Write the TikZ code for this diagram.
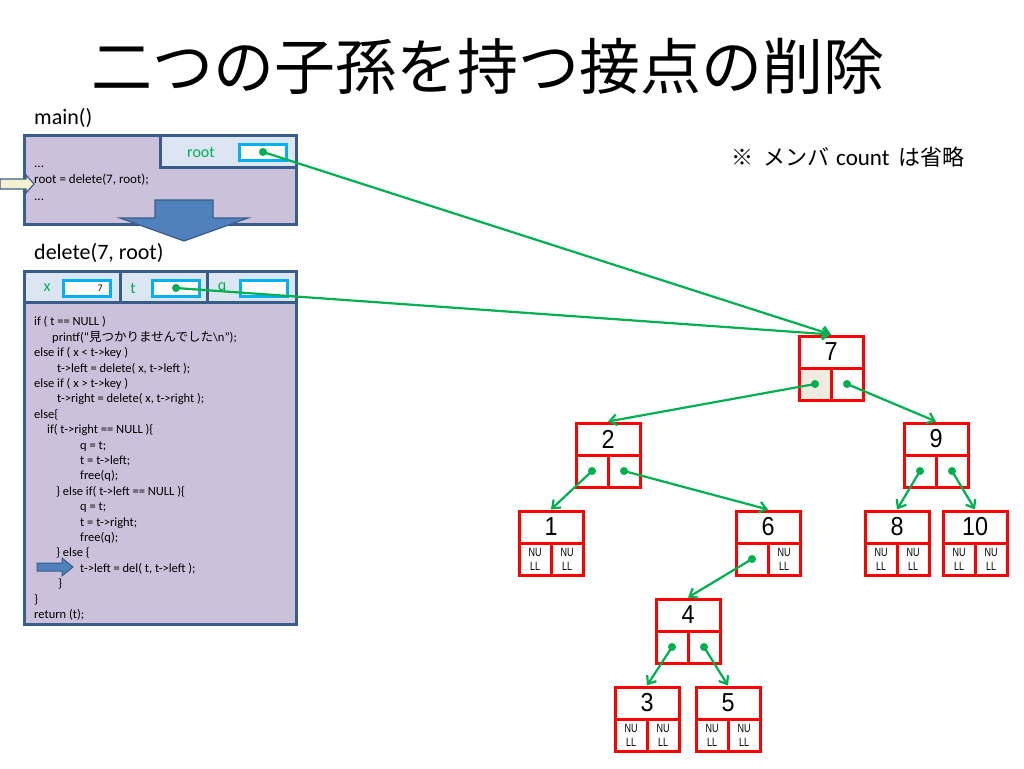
\documentclass[tikz,border=0pt]{standalone}
\usepackage{fontspec}
\setmainfont{Carlito}
\newfontfamily\jpfont{Noto Sans CJK JP}
\newfontfamily\keyfont[FakeStretch=0.9]{Liberation Sans}
\newfontfamily\nilfont[FakeStretch=0.75]{Liberation Sans}
\usetikzlibrary{arrows.meta}
\definecolor{framecol}{HTML}{385D8A}
\definecolor{boxfill}{HTML}{CCC1DA}
\definecolor{headfill}{HTML}{DCE6F2}
\definecolor{ptrcol}{HTML}{00B0F0}
\definecolor{linkcol}{HTML}{00B050}
\definecolor{arrowfill}{HTML}{4F81BD}
\definecolor{hintfill}{HTML}{F5F0D0}
\definecolor{usedcell}{HTML}{EEECE1}
\tikzset{
  frame/.style={draw=framecol,line width=3pt,fill=boxfill},
  head/.style={draw=framecol,line width=3pt,fill=headfill},
  ptr/.style={draw=ptrcol,line width=3pt,fill=white,minimum width=47pt,minimum height=16pt,inner sep=0pt},
  varname/.style={text=linkcol,font=\fontsize{16}{16}\selectfont,inner sep=0pt},
  key/.style={draw=red,line width=3pt,fill=white,minimum width=64pt,minimum height=32pt,inner sep=0pt,font=\keyfont\fontsize{26}{26}\selectfont},
  cell/.style={draw=red,line width=3pt,minimum size=32pt,inner sep=0pt},
  nulltext/.style={align=center,inner sep=0pt,font=\nilfont\fontsize{12}{14}\selectfont},
  link/.style={draw=linkcol,line width=2.2pt,-{Straight Barb[length=7pt,width=11pt]}}
}
\begin{document}
\begin{tikzpicture}[x=1pt,y=-1pt]
  \useasboundingbox (0,0) rectangle (1024,768);
  \fill[white] (0,0) rectangle (1024,768);
  % title and note
  \node[font=\jpfont\fontsize{61}{61}\selectfont] (title) at (488,66) {二つの子孫を持つ接点の削除};
  \node[anchor=west,inner sep=0pt,font=\jpfont\fontsize{22}{22}\selectfont] (note) at (731,157)
    {※\hspace{10pt}メンバ\hspace{7pt}{\rmfamily\fontsize{23}{23}\selectfont count}\hspace{9pt}は省略};
  % main()
  \node[anchor=west,inner sep=0pt,font=\fontsize{22}{22}\selectfont] (mainlabel) at (34,118) {main()};
  \draw[frame] (24,135) rectangle (296,224);
  \draw[head] (160,135) rectangle (296,167);
  \node[varname] (rootname) at (201,152) {root};
  \node[ptr] (rootptr) at (263,152) {};
  \node[anchor=west,align=left,inner sep=0pt,font=\fontsize{13}{16.5}\selectfont] (maincode) at (34,183)
    {...\\root = delete(7, root);\\...};
  \draw[draw=framecol,line width=1.2pt,fill=hintfill]
    (0,179) -- (26,179) -- (26,175) -- (34,184) -- (26,193) -- (26,189) -- (0,189) -- cycle;
  \draw[draw=framecol,line width=1.2pt,fill=arrowfill]
    (155,200) -- (213,200) -- (213,218) -- (248,218) -- (184,241) -- (120,218) -- (155,218) -- cycle;
  % delete(7, root)
  \node[anchor=west,inner sep=0pt,font=\fontsize{22}{22}\selectfont] (dellabel) at (34,253) {delete(7, root)};
  \draw[frame] (24,271) rectangle (296,624);
  \draw[head] (24,271) rectangle (120,302);
  \draw[head] (120,271) rectangle (207,302);
  \draw[head] (207,271) rectangle (296,302);
  \node[varname] (xname) at (47,288) {x};
  \node[ptr] (xptr) at (87,288) {};
  \node[anchor=east,inner sep=0pt,font=\fontsize{10}{10}\selectfont] (xval) at (103,288) {7};
  \node[varname] (tname) at (133,288) {t};
  \node[ptr] (tptr) at (176,288) {};
  \node[varname] (qname) at (222,288) {q};
  \node[ptr] (qptr) at (264,288) {};
  \node[anchor=north west,align=left,inner sep=0pt,font=\fontsize{12.5}{15.4}\selectfont] (delcode) at (34,316.5)
    {if ( t == NULL )\\
     \hspace*{18pt}printf(“{\jpfont 見つかりませんでした}\textbackslash n”);\\
     else if ( x < t->key )\\
     \hspace*{23pt}t->left = delete( x, t->left );\\
     else if ( x > t->key )\\
     \hspace*{23pt}t->right = delete( x, t->right );\\
     else\{\\
     \hspace*{13pt}if( t->right == NULL )\{\\
     \hspace*{46pt}q = t;\\
     \hspace*{46pt}t = t->left;\\
     \hspace*{46pt}free(q);\\
     \hspace*{22pt}\} else if( t->left == NULL )\{\\
     \hspace*{46pt}q = t;\\
     \hspace*{46pt}t = t->right;\\
     \hspace*{46pt}free(q);\\
     \hspace*{22pt}\} else \{\\
     \hspace*{46pt}t->left = del( t, t->left );\\
     \hspace*{24pt}\}\\
     \}\\
     return (t);};
  \draw[draw=framecol,line width=1pt,fill=arrowfill]
    (37,563) -- (62,563) -- (62,558) -- (73,567) -- (62,576) -- (62,571) -- (37,571) -- cycle;
  % tree
  \foreach \nm/\x/\y/\lf in {7/831/368/usedcell, 2/608/455/white, 9/936/455/white,
      1/551/543/white, 6/768/543/white, 8/897/543/white, 10/975/543/white,
      4/688/631/white, 3/647/719/white, 5/728/719/white} {
    \node[key] (n\nm) at (\x,\y-16) {\nm};
    \node[cell,fill=\lf] (n\nm-l) at (\x-16,\y+16) {};
    \node[cell,fill=white] (n\nm-r) at (\x+16,\y+16) {};
  }
  \foreach \c in {n1-l,n1-r,n6-r,n8-l,n8-r,n10-l,n10-r,n3-l,n3-r,n5-l,n5-r}
    \node[nulltext] (\c-txt) at (\c) {NU\\LL};
  % pointers
  \draw[link] (rootptr.center) -- (n7.north);
  \draw[link] (tptr.center) -- (n7.north);
  \foreach \a/\b in {n7-l/n2, n7-r/n9, n2-l/n1, n2-r/n6, n9-l/n8, n9-r/n10, n6-l/n4, n4-l/n3, n4-r/n5}
    \draw[link] (\a.center) -- (\b.north);
  \foreach \c in {rootptr,tptr,n7-l,n7-r,n2-l,n2-r,n9-l,n9-r,n6-l,n4-l,n4-r}
    \fill[linkcol] (\c.center) circle[radius=4pt];
\end{tikzpicture}
\end{document}
